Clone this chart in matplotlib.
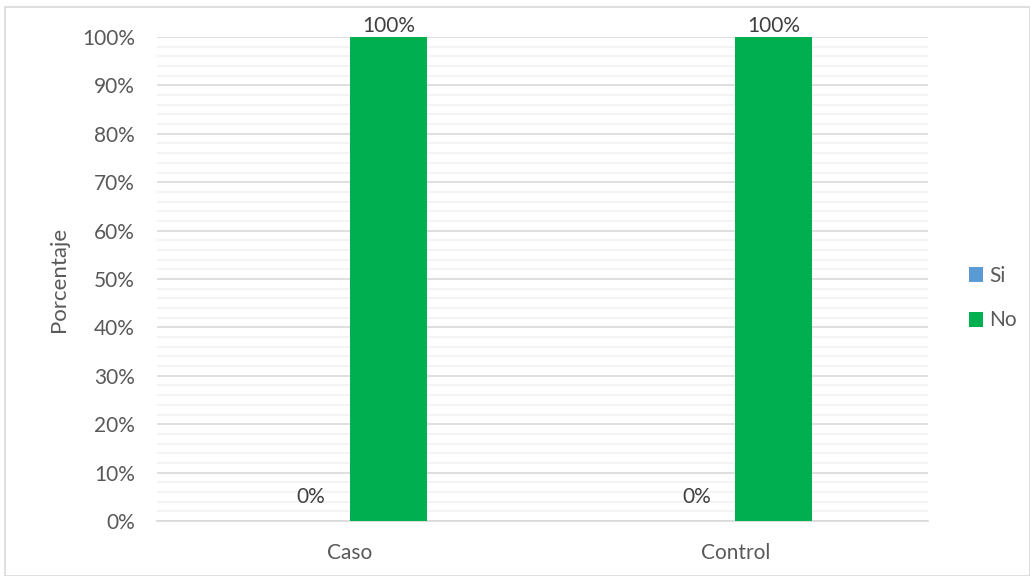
import matplotlib
matplotlib.use("Agg")
import matplotlib.pyplot as plt
from matplotlib.patches import Rectangle
import numpy as np

categories = ["Caso", "Control"]
series_names = ["Si", "No"]
si_values = [0, 0]
no_values = [100, 100]
colors = ["#5B9BD5", "#00B050"]
text_color = "#595959"

plt.rcParams["font.family"] = ["Lato", "DejaVu Sans"]

fig = plt.figure(figsize=(10.30, 5.76), dpi=100)
ax = fig.add_axes([157 / 1030, 1 - 521 / 576, (928 - 157) / 1030, (521 - 37) / 576])

x = np.arange(len(categories))
width = 0.2
for i, (vals, name, col) in enumerate(zip([si_values, no_values], series_names, colors)):
    pos = x + (i - 0.5) * width
    ax.bar(pos, vals, width=width, color=col, label=name, zorder=3)
    for xb, v in zip(pos, vals):
        ax.annotate(f"{v:.0f}%", (xb, v), xytext=(0, 1 if v > 0 else 10),
                    textcoords="offset points", ha="center", va="bottom",
                    fontsize=15, color="#404040")

ax.set_xlim(-0.5, 1.5)
ax.set_ylim(0, 100)
ax.set_yticks(np.arange(0, 101, 10))
ax.set_yticklabels([f"{t}%" for t in range(0, 101, 10)])
ax.set_yticks(np.arange(0, 101, 2), minor=True)
ax.set_xticks(x)
ax.set_xticklabels(categories)
ax.grid(axis="y", which="major", color="#D9D9D9", linewidth=1.2, zorder=0)
ax.grid(axis="y", which="minor", color="#F2F2F2", linewidth=1.2, zorder=0)
ax.tick_params(axis="both", which="both", length=0, labelsize=15, colors=text_color)
ax.tick_params(axis="y", pad=16)
ax.tick_params(axis="x", pad=16)
for s in ["top", "right", "left"]:
    ax.spines[s].set_visible(False)
ax.spines["bottom"].set_color("#D9D9D9")
ax.spines["bottom"].set_linewidth(1.2)

ax.set_ylabel("Porcentaje", fontsize=16, color=text_color, labelpad=9)

leg = fig.legend(loc="center left", bbox_to_anchor=(950 / 1030, 1 - 298 / 576),
                 frameon=False, fontsize=15, handlelength=0.7, handleheight=0.7,
                 handletextpad=0.3, labelspacing=1.2)
for t in leg.get_texts():
    t.set_color(text_color)

fig.patches.append(Rectangle((5 / 1030, 0), 1 - 5 / 1030, 1 - 7 / 576,
                             transform=fig.transFigure, fill=False,
                             edgecolor="#D9D9D9", linewidth=1.2))

fig.savefig("out.png", dpi=100)
